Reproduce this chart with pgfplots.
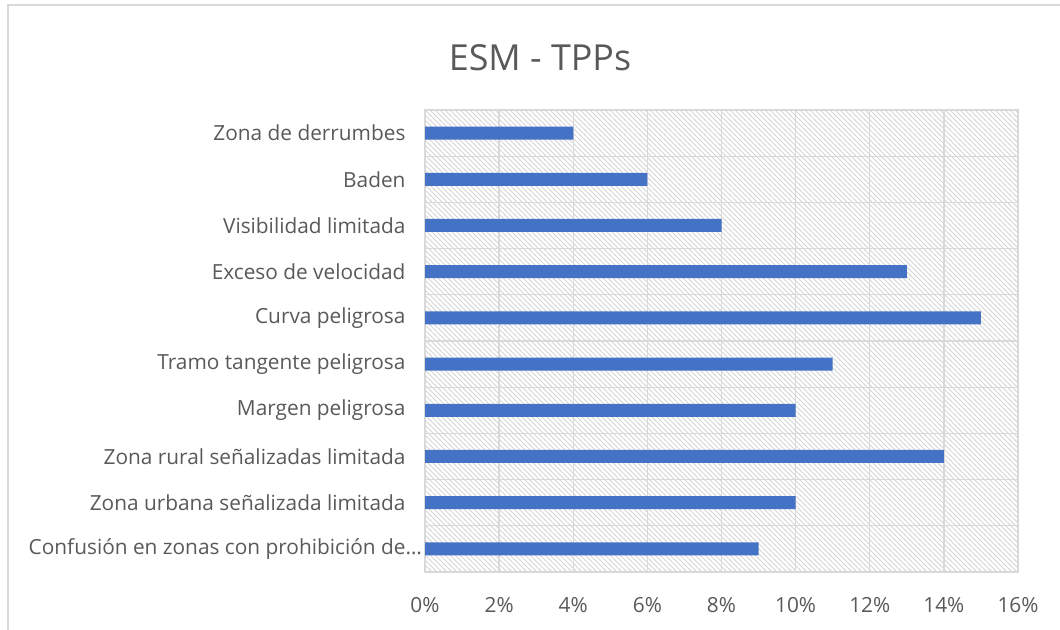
\documentclass[border=0pt]{standalone}
\usepackage{fontspec}
\setmainfont{Open Sans}
\usepackage{pgfplots}
\pgfplotsset{compat=1.18}
\usetikzlibrary{patterns}
\definecolor{barblue}{HTML}{4472C4}
\definecolor{txt}{HTML}{595959}
\definecolor{gridc}{HTML}{D9D9D9}

% light diagonal hatching for the plot area
\pgfdeclarepatternformonly{hatch}{\pgfqpoint{-1bp}{-1bp}}{\pgfqpoint{6bp}{6bp}}{\pgfqpoint{5bp}{5bp}}{
  \pgfsetlinewidth{0.9bp}
  \pgfpathmoveto{\pgfqpoint{-1bp}{6bp}}
  \pgfpathlineto{\pgfqpoint{6bp}{-1bp}}
  \pgfusepath{stroke}}

\begin{document}
\begin{tikzpicture}[x=1bp,y=1bp]
\useasboundingbox (0,0) rectangle (1060,630);
% outer chart frame (only left and top edges are visible)
\draw[gridc, line width=1.2bp] (8,0) -- (8,625) -- (1060,625);
\node[txt, font=\fontsize{36}{40}\selectfont] at (540,572) {ESM - TPPs};
\begin{axis}[
  at={(425bp,58bp)}, anchor=south west,
  scale only axis, width=593bp, height=462bp,
  xmin=0, xmax=16, ymin=-0.5, ymax=9.5, y dir=reverse,
  xtick={0,2,...,16},
  xticklabel={\pgfmathprintnumber{\tick}\%},
  ytick={0,...,9},
  yticklabels={Zona de derrumbes, Baden, Visibilidad limitada, Exceso de velocidad,
    Curva peligrosa, Tramo tangente peligrosa, Margen peligrosa,
    Zona rural señalizadas limitada, Zona urbana señalizada limitada,
    Confusión en zonas con prohibición de\rlap{…}},
  minor ytick={-0.5,0.5,...,9.5},
  xmajorgrids, yminorgrids,
  grid style={gridc, line width=1.3bp},
  minor grid style={gridc, line width=1.3bp},
  major tick length=0, minor tick length=0,
  axis line style={gridc, line width=1.3bp},
  axis background/.style={pattern=hatch, pattern color=black!16},
  tick label style={txt, font=\fontsize{20.9}{24}\selectfont},
  yticklabel style={xshift=-16bp},
  xticklabel style={yshift=-22bp},
  /pgf/number format/assume math mode=true,
  xbar, bar width=13bp,
]
\addplot[fill=barblue, draw=none] coordinates {
  (4,0) (6,1) (8,2) (13,3) (15,4) (11,5) (10,6) (14,7) (10,8) (9,9)};
\end{axis}
\end{tikzpicture}
\end{document}
